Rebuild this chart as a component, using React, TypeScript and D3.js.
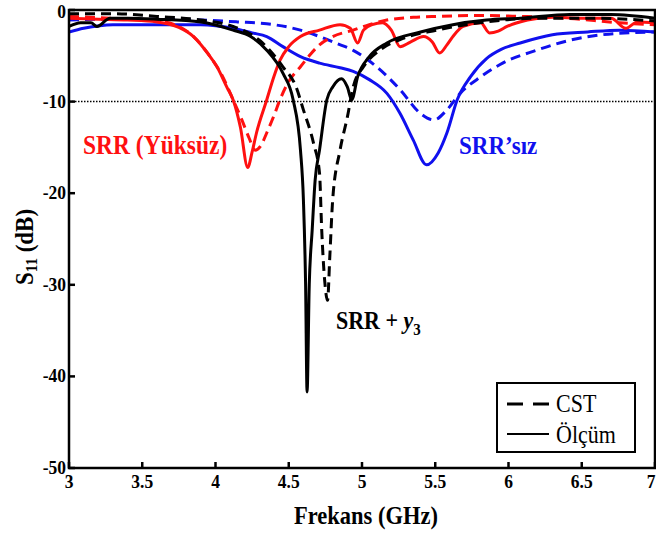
import React from "react";
import * as d3 from "d3";

const xTicks = [3, 3.5, 4, 4.5, 5, 5.5, 6, 6.5, 7];
const xTickLabels = ["3", "3.5", "4", "4.5", "5", "5.5", "6", "6.5", "7"];
const yTicks = [0, -10, -20, -30, -40, -50];
const yTickLabels = ["0", "-10", "-20", "-30", "-40", "-50"];

// SRR (Yüksüz) – measured
const redSolid: [number, number][] = [
  [3.0, -0.9], [3.2, -1.0], [3.4, -1.1], [3.6, -1.3], [3.75, -1.9], [3.85, -2.9], [3.95, -4.8],
  [4.01, -6.2], [4.08, -8.5], [4.12, -9.8], [4.17, -12.8], [4.22, -17.2], [4.25, -15.5],
  [4.28, -13.4], [4.35, -9.8], [4.4, -7.2], [4.44, -5.5], [4.5, -4.0], [4.58, -2.9], [4.71, -2.2],
  [4.85, -1.6], [4.92, -2.0], [4.97, -3.6], [5.01, -2.2], [5.07, -1.6], [5.14, -1.4], [5.2, -2.2],
  [5.26, -4.0], [5.33, -3.5], [5.42, -2.9], [5.48, -3.5], [5.53, -4.7], [5.58, -3.8], [5.62, -2.9],
  [5.69, -1.8], [5.81, -1.4], [5.87, -2.5], [5.93, -2.3], [5.99, -1.8], [6.13, -1.1], [6.3, -0.8],
  [6.5, -0.9], [6.7, -0.9], [6.8, -2.0], [6.88, -1.3], [7.0, -1.4],
];
// SRR (Yüksüz) – CST
const redDashed: [number, number][] = [
  [3.0, -0.7], [3.3, -0.9], [3.6, -1.2], [3.75, -1.8], [3.85, -2.9], [3.95, -4.8], [4.05, -7.3],
  [4.12, -9.8], [4.18, -12.0], [4.23, -14.0], [4.27, -15.3], [4.31, -14.8], [4.35, -13.4],
  [4.4, -11.5], [4.44, -9.8], [4.5, -7.8], [4.58, -6.2], [4.65, -4.8], [4.71, -3.8], [4.8, -2.9],
  [4.94, -2.2], [5.05, -1.6], [5.17, -1.1], [5.35, -0.8], [5.51, -0.7], [5.8, -0.6], [6.08, -0.7],
  [6.4, -0.9], [6.76, -1.4], [7.0, -1.6],
];
// SRR'sız – measured
const blueSolid: [number, number][] = [
  [3.0, -2.4], [3.1, -2.0], [3.3, -1.6], [3.6, -1.6], [3.9, -1.6], [4.12, -2.0], [4.25, -2.5],
  [4.35, -2.9], [4.46, -4.0], [4.58, -5.1], [4.71, -5.8], [4.85, -6.3], [4.94, -6.7], [5.05, -7.6],
  [5.17, -9.1], [5.26, -11.3], [5.35, -14.2], [5.44, -16.9], [5.52, -15.6], [5.58, -13.4],
  [5.65, -9.8], [5.74, -7.3], [5.85, -5.3], [5.95, -4.3], [6.08, -3.6], [6.3, -2.7], [6.54, -2.4],
  [6.76, -2.2], [7.0, -2.4],
];
// SRR'sız – CST
const blueDashed: [number, number][] = [
  [3.0, -1.1], [3.3, -1.0], [3.6, -1.0], [3.9, -1.1], [4.15, -1.3], [4.35, -1.5], [4.58, -2.2],
  [4.71, -2.9], [4.82, -3.6], [4.94, -4.4], [5.1, -6.2], [5.26, -8.7], [5.4, -11.3], [5.49, -12.0],
  [5.58, -10.9], [5.67, -9.1], [5.81, -7.3], [5.96, -5.8], [6.19, -4.4], [6.42, -3.3], [6.64, -2.7],
  [7.0, -2.4],
];
// SRR + y3 – measured
const blackSolid: [number, number][] = [
  [3.0, -1.8], [3.08, -1.4], [3.15, -1.4], [3.19, -1.8], [3.28, -0.9], [3.4, -0.9], [3.6, -1.0],
  [3.9, -1.3], [4.12, -2.2], [4.24, -2.9], [4.35, -4.4], [4.46, -6.9], [4.53, -9.8], [4.58, -15.3],
  [4.6, -20.7], [4.615, -30.0], [4.625, -41.7], [4.64, -30.0], [4.66, -24.0], [4.68, -18.6],
  [4.71, -15.3], [4.76, -9.8], [4.8, -8.4], [4.86, -7.5], [4.9, -8.4], [4.93, -9.8], [4.97, -7.3],
  [5.05, -5.1], [5.17, -3.6], [5.4, -2.4], [5.62, -1.6], [5.85, -1.1], [6.08, -0.9], [6.42, -0.5],
  [6.7, -0.5], [7.0, -0.9],
];
// SRR + y3 – CST
const blackDashed: [number, number][] = [
  [3.0, -0.4], [3.3, -0.4], [3.6, -0.7], [3.9, -1.1], [4.12, -1.8], [4.3, -3.3], [4.46, -6.2],
  [4.55, -8.4], [4.6, -10.9], [4.67, -14.6], [4.71, -17.8], [4.725, -24.0], [4.745, -29.5],
  [4.765, -31.7], [4.78, -27.0], [4.8, -20.7], [4.85, -15.3], [4.9, -11.7], [4.94, -8.4],
  [5.01, -6.2], [5.12, -4.4], [5.28, -3.1], [5.51, -2.2], [5.85, -1.3], [6.19, -0.9], [6.6, -0.9],
  [7.0, -1.2],
];

const W = 656;
const H = 534;
const L = 69;
const R = 655;
const T = 10;
const B = 468;
const FONT = "Liberation Serif, DejaVu Serif, serif";
const SY = 1.12; // vertical stretch of the reference lettering

function Txt(props: {
  x: number;
  y: number;
  size: number;
  bold?: boolean;
  anchor?: string;
  fill?: string;
  rotate?: number;
  children: React.ReactNode;
}) {
  const { x, y, size, bold, anchor, fill, rotate, children } = props;
  const tr = `translate(${x},${y})${rotate ? ` rotate(${rotate})` : ""} scale(1,${SY})`;
  return (
    <text
      transform={tr}
      fontSize={size}
      fontWeight={bold ? "bold" : "normal"}
      textAnchor={anchor || "start"}
      fill={fill || "#000"}
      style={{ fontFamily: FONT }}
    >
      {children}
    </text>
  );
}

export default function App() {
  const x = d3.scaleLinear().domain([3, 7]).range([L, R]);
  const y = d3.scaleLinear().domain([0, -50]).range([T, B]);
  const line = d3
    .line<[number, number]>()
    .x((d) => x(d[0]))
    .y((d) => y(d[1]))
    .curve(d3.curveMonotoneX);

  const series = [
    { d: blueDashed, c: "#1010ee", dash: true },
    { d: blueSolid, c: "#1010ee", dash: false },
    { d: redDashed, c: "#ff1010", dash: true },
    { d: redSolid, c: "#ff1010", dash: false },
    { d: blackDashed, c: "#000", dash: true },
    { d: blackSolid, c: "#000", dash: false },
  ];

  return (
    <svg
      width={W}
      height={H}
      style={{ position: "absolute", left: 0, top: 0, background: "#fff", fontFamily: FONT }}
    >
      <defs>
        <clipPath id="plot">
          <rect x={L} y={T} width={R - L} height={B - T} />
        </clipPath>
      </defs>
      <rect x={0} y={0} width={W} height={H} fill="#fff" />
      <line
        x1={L}
        x2={R}
        y1={y(-10)}
        y2={y(-10)}
        stroke="#000"
        strokeWidth={1.5}
        strokeDasharray="1.5,1.5"
      />
      <g clipPath="url(#plot)">
        {series.map((s, i) => (
          <path
            key={i}
            d={line(s.d) || ""}
            fill="none"
            stroke={s.c}
            strokeWidth={3}
            strokeDasharray={s.dash ? "10,6" : undefined}
            strokeLinejoin="round"
          />
        ))}
      </g>
      <rect x={L} y={T} width={R - L} height={B - T} fill="none" stroke="#000" strokeWidth={2.5} />
      {xTicks.map((t, i) => (
        <g key={"x" + i}>
          <line x1={x(t)} x2={x(t)} y1={B} y2={B - 6} stroke="#000" strokeWidth={2.5} />
          <Txt x={i === xTicks.length - 1 ? x(t) - 4 : x(t)} y={B + 20} size={17.5} bold anchor="middle">
            {xTickLabels[i]}
          </Txt>
        </g>
      ))}
      {yTicks.map((t, i) => (
        <g key={"y" + i}>
          <line x1={L} x2={L + 6} y1={y(t)} y2={y(t)} stroke="#000" strokeWidth={2.5} />
          <Txt x={L - 3} y={Math.max(y(t) + 6, 18)} size={17.5} bold anchor="end">
            {yTickLabels[i]}
          </Txt>
        </g>
      ))}
      <Txt x={366} y={524} size={22.5} bold anchor="middle">
        Frekans (GHz)
      </Txt>
      <Txt x={33} y={247} size={23} bold anchor="middle" rotate={-90}>
        S<tspan fontSize={15} dy={4}>11</tspan>
        <tspan dy={-4}> (dB)</tspan>
      </Txt>
      <Txt x={83} y={154} size={23.5} bold fill="#ff1010">
        SRR (Yüksüz)
      </Txt>
      <Txt x={459} y={154} size={23} bold fill="#1010ee">
        SRR’sız
      </Txt>
      <Txt x={336} y={329} size={22} bold>
        SRR + <tspan fontStyle="italic">y</tspan>
        <tspan fontSize={15} dy={5}>3</tspan>
      </Txt>
      <rect x={497} y={383} width={138} height={69} fill="#fff" stroke="#000" strokeWidth={2} />
      <line x1={507} x2={549} y1={404} y2={404} stroke="#000" strokeWidth={3} strokeDasharray="16,10" />
      <Txt x={556} y={412} size={22}>CST</Txt>
      <line x1={507} x2={549} y1={434} y2={434} stroke="#000" strokeWidth={2} />
      <Txt x={556} y={443} size={22}>Ölçüm</Txt>
    </svg>
  );
}
